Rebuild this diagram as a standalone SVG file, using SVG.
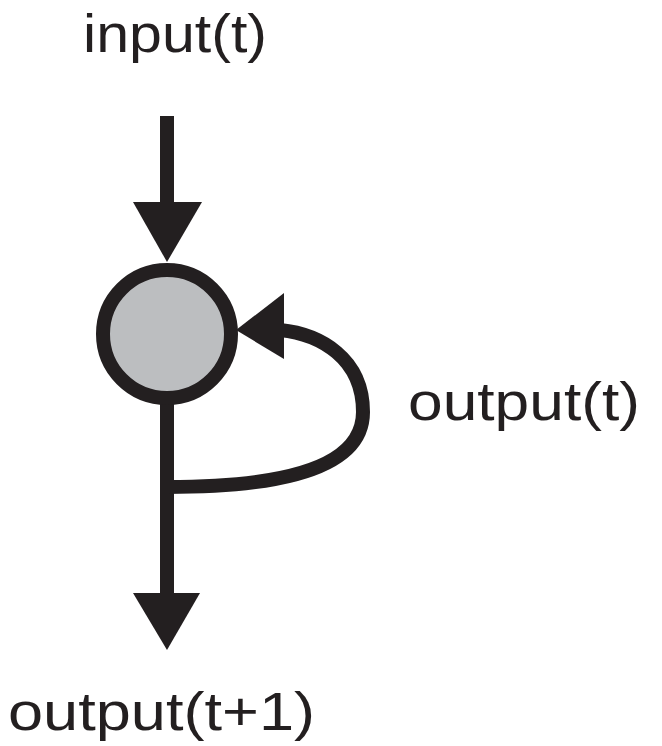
<svg xmlns="http://www.w3.org/2000/svg" width="662" height="746" viewBox="0 0 662 746">
<style>
.lbl{font-family:"Liberation Sans",Arial,sans-serif;font-size:54px;fill:#231f20}
.ln{fill:none;stroke:#231f20;stroke-width:14}
.hd{fill:#231f20}
</style>
<rect width="662" height="746" fill="#ffffff"/>
<g id="connectors">
<line class="ln" x1="167" y1="116" x2="167" y2="205"/>
<polygon class="hd" points="133,202 202,202 167,262"/>
<line class="ln" x1="167" y1="400" x2="167" y2="596"/>
<polygon class="hd" points="133,593 200,593 167,650"/>
<path class="ln" d="M167,487 C250,487 363,478 363,412 C363,358 320,334 280,330"/>
<polygon class="hd" points="284,293 284,359 236,330"/>
</g>
<g id="node">
<circle cx="167" cy="334" r="64" fill="#bcbec0" stroke="#231f20" stroke-width="14"/>
</g>
<g id="labels">
<text class="lbl" x="83" y="52" textLength="184" lengthAdjust="spacingAndGlyphs">input(t)</text>
<text class="lbl" x="408" y="420" textLength="232" lengthAdjust="spacingAndGlyphs">output(t)</text>
<text class="lbl" x="8" y="730" textLength="307" lengthAdjust="spacingAndGlyphs">output(t+1)</text>
</g>
</svg>
